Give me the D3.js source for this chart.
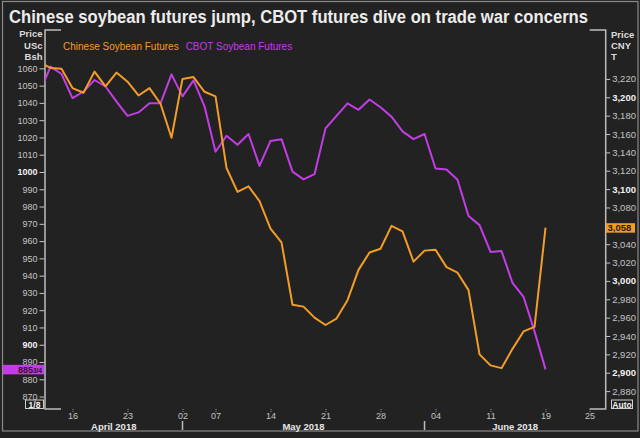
<!DOCTYPE html>
<html>
<head>
<meta charset="utf-8">
<script src="https://cdn.jsdelivr.net/npm/d3@7"></script>
<style>
  html, body { margin: 0; padding: 0; background: #222222; }
  svg { display: block; font-family: "Liberation Sans", Arial, sans-serif; }
</style>
</head>
<body>
<svg id="chart"></svg>
<script>
// trading days on the Dalian calendar (holidays skipped), incl. a few days after the last close
const tradingDays = [
  "2018-04-11", "2018-04-12", "2018-04-13",
  "2018-04-16", "2018-04-17", "2018-04-18", "2018-04-19", "2018-04-20",
  "2018-04-23", "2018-04-24", "2018-04-25", "2018-04-26", "2018-04-27",
  "2018-05-02", "2018-05-03", "2018-05-04",
  "2018-05-07", "2018-05-08", "2018-05-09", "2018-05-10", "2018-05-11",
  "2018-05-14", "2018-05-15", "2018-05-16", "2018-05-17", "2018-05-18",
  "2018-05-21", "2018-05-22", "2018-05-23", "2018-05-24", "2018-05-25",
  "2018-05-28", "2018-05-29", "2018-05-30", "2018-05-31", "2018-06-01",
  "2018-06-04", "2018-06-05", "2018-06-06", "2018-06-07", "2018-06-08",
  "2018-06-11", "2018-06-12", "2018-06-13", "2018-06-14", "2018-06-15",
  "2018-06-19", "2018-06-20", "2018-06-21", "2018-06-22",
  "2018-06-25", "2018-06-26", "2018-06-27"
];

// CBOT soybean futures, US cents / bushel (left axis)
const cbotPrices = [
  1045.75, 1061, 1056.75, 1042.75, 1046.5, 1053.25, 1049.5, 1040.75, 1032.5, 1034.5,
  1039.75, 1039.75, 1056.5, 1043.75, 1053, 1038, 1011.75, 1021, 1015.75, 1022,
  1003.5, 1018, 1019, 1000.25, 995.75, 998.75, 1025.25, 1032.5, 1039.75, 1036,
  1042, 1037.5, 1032, 1023.5, 1019, 1022, 1002, 1001.5, 995.5, 974.5,
  969.25, 953.75, 954.25, 935.75, 927.75, 907.75, 885.75
];

// Chinese (Dalian) soybean futures, CNY / tonne (right axis)
const chinaPrices = [
  3238, 3232, 3231, 3210, 3205, 3228, 3212, 3227, 3217, 3202,
  3210, 3193, 3156, 3220, 3222, 3206, 3201, 3123, 3097, 3103,
  3087, 3057, 3042, 2974, 2972, 2960, 2952, 2959, 2979, 3012,
  3031, 3035, 3060, 3054, 3021, 3033, 3034, 3015, 3009, 2990,
  2920, 2908, 2905, 2926, 2945, 2950, 3058
];

const xTickDays = ["2018-04-16", "2018-04-23", "2018-05-02", "2018-05-07", "2018-05-14", "2018-05-21",
  "2018-05-28", "2018-06-04", "2018-06-11", "2018-06-19", "2018-06-25"];
const leftTicks = [870, 880, 890, 900, 910, 920, 930, 940, 950, 960, 970, 980, 990,
  1000, 1010, 1020, 1030, 1040, 1050, 1060];
// 3,060 sits under the last-price flag, so it is not listed
const rightTicks = [2880, 2900, 2920, 2940, 2960, 2980, 3000, 3020, 3040,
  3080, 3100, 3120, 3140, 3160, 3180, 3200, 3220];
const months = ["April 2018", "May 2018", "June 2018"];

const title = "Chinese soybean futures jump, CBOT futures dive on trade war concerns";
const seriesNames = ["Chinese Soybean Futures", "CBOT Soybean Futures"];

const W = 640, H = 438;
const plot = { left: 45, right: 605.7, top: 30, bottom: 409 };
const orange = "#f39c26", purple = "#c33de6";
const grey = "#c4c4c4";
const font = "Liberation Sans, Arial, sans-serif";

const svg = d3.select("#chart").attr("width", W).attr("height", H);

svg.append("rect").attr("width", W).attr("height", H).attr("fill", "#222222");
// outer panel border
svg.append("rect")
  .attr("x", 2.5).attr("y", 1.5).attr("width", W - 4.5).attr("height", 429.5)
  .attr("fill", "none").attr("stroke", "#8a8a8a").attr("stroke-width", 1.2);

svg.append("text")
  .attr("x", 9).attr("y", 23)
  .attr("fill", "#ececec")
  .attr("font-size", 17.5).attr("font-weight", "bold")
  .attr("textLength", 579).attr("lengthAdjust", "spacingAndGlyphs")
  .text(title);

// scales
const x = d3.scaleLinear()
  .domain([0.5, 51.47])
  .range([plot.left, plot.right]);

const yLeft = d3.scaleLinear()
  .domain([862.8, 1082.2])
  .range([plot.bottom, plot.top]);

const yRight = d3.scaleLinear()
  .domain([2860.5, 3273.3])
  .range([plot.bottom, plot.top]);

// frame: full side lines, short corner pieces top and bottom
const frame = svg.append("g").attr("stroke", "#bdbdbd").attr("stroke-width", 1.5).attr("fill", "none");
frame.append("path").attr("d",
  `M${plot.left + 16},${plot.top}H${plot.left}V${plot.bottom}H${plot.left + 16}` +
  `M${plot.right - 16},${plot.top}H${plot.right}V${plot.bottom}H${plot.right - 16}`);

// left axis
const leftAxis = svg.append("g")
  .attr("transform", `translate(${plot.left - 0.5},0)`)
  .call(d3.axisLeft(yLeft).tickValues(leftTicks).tickFormat(d3.format("d")).tickSize(5).tickPadding(2));
leftAxis.select(".domain").remove();
leftAxis.selectAll("line").attr("stroke", grey);
leftAxis.selectAll("text")
  .attr("fill", d => d % 100 === 0 ? "#f0f0f0" : grey)
  .attr("font-weight", d => d % 100 === 0 ? "bold" : null)
  .attr("font-size", 9)
  .attr("font-family", font);

// right axis
const rightAxis = svg.append("g")
  .attr("transform", `translate(${plot.right + 0.5},0)`)
  .call(d3.axisRight(yRight).tickValues(rightTicks).tickFormat(d3.format(",")).tickSize(4).tickPadding(2));
rightAxis.select(".domain").remove();
rightAxis.selectAll("line").attr("stroke", grey);
rightAxis.selectAll("text")
  .attr("fill", d => d % 100 === 0 ? "#f0f0f0" : grey)
  .attr("font-weight", d => d % 100 === 0 ? "bold" : null)
  .attr("font-size", 9.5)
  .attr("font-family", font);

// unit labels
const unitL = ["Price", "USc", "Bsh"], unitR = ["Price", "CNY", "T"];
unitL.forEach((t, i) => svg.append("text")
  .attr("x", 42.5).attr("y", 37 + i * 11.7).attr("text-anchor", "end")
  .attr("fill", "#dcdcdc").attr("font-size", 9.5).attr("font-weight", "bold").text(t));
unitR.forEach((t, i) => svg.append("text")
  .attr("x", 611).attr("y", 37.5 + i * 11).attr("fill", "#dcdcdc")
  .attr("font-size", 9.5).attr("font-weight", "bold").text(t));

// x axis
const dayIndex = d => tradingDays.indexOf(d);
const xAxis = svg.append("g")
  .attr("transform", `translate(0,${plot.bottom})`)
  .call(d3.axisBottom(x)
    .tickValues(xTickDays.map(dayIndex))
    .tickFormat(i => tradingDays[i].slice(8))
    .tickSize(3).tickPadding(1));
xAxis.select(".domain").remove();
xAxis.selectAll("line").attr("stroke", "#9a9a9a").attr("stroke-dasharray", "1,1");
xAxis.selectAll("text").attr("fill", grey).attr("font-size", 9)
  .attr("font-family", font);

// month bands: separators at the first trading day of each month
const monthStarts = [dayIndex("2018-05-02"), dayIndex("2018-06-01")];
const bounds = [x.invert(plot.left), ...monthStarts, x.invert(plot.right)];
monthStarts.forEach(i => svg.append("line")
  .attr("x1", x(i)).attr("x2", x(i)).attr("y1", 421).attr("y2", 430)
  .attr("stroke", "#bdbdbd").attr("stroke-width", 1.5));
months.forEach((m, k) => svg.append("text")
  .attr("x", (x(bounds[k]) + x(bounds[k + 1])) / 2).attr("y", 430)
  .attr("text-anchor", "middle").attr("fill", "#e6e6e6")
  .attr("font-size", 9.5).attr("font-weight", "bold").text(m));

// lines, clipped to the plot frame
svg.append("clipPath").attr("id", "clip")
  .append("rect").attr("x", plot.left).attr("y", plot.top)
  .attr("width", plot.right - plot.left).attr("height", plot.bottom - plot.top);

const lineL = d3.line().x((d, i) => x(i)).y(d => yLeft(d));
const lineR = d3.line().x((d, i) => x(i)).y(d => yRight(d));

const lines = svg.append("g").attr("clip-path", "url(#clip)");
lines.append("path").datum(cbotPrices)
  .attr("d", lineL).attr("fill", "none").attr("stroke", purple)
  .attr("stroke-width", 2).attr("stroke-linejoin", "round");
lines.append("path").datum(chinaPrices)
  .attr("d", lineR).attr("fill", "none").attr("stroke", orange)
  .attr("stroke-width", 2).attr("stroke-linejoin", "round");

// legend
const legend = svg.append("text").attr("x", 63).attr("y", 50).attr("font-size", 10);
legend.append("tspan").attr("fill", orange).text(seriesNames[0]);
legend.append("tspan").attr("fill", purple).attr("dx", 7).text(seriesNames[1]);

// last value flags
const lastL = cbotPrices[cbotPrices.length - 1];
const lastR = chinaPrices[chinaPrices.length - 1];
svg.append("rect").attr("x", 3).attr("y", yLeft(lastL) - 4.5).attr("width", 41).attr("height", 9.5)
  .attr("fill", purple);
const flagL = svg.append("text").attr("x", 42).attr("y", yLeft(lastL) + 3.8)
  .attr("text-anchor", "end").attr("fill", "#2a1030").attr("font-size", 9).attr("font-weight", "bold");
flagL.append("tspan").text(Math.floor(lastL));
flagL.append("tspan").attr("font-size", 6.5).text("3/4");

svg.append("rect").attr("x", 606).attr("y", yRight(lastR) - 4.5).attr("width", 29).attr("height", 9.5)
  .attr("fill", orange);
svg.append("text").attr("x", 607.5).attr("y", yRight(lastR) + 3.5)
  .attr("fill", "#2a1a00").attr("font-size", 9.5).attr("font-weight", "bold")
  .text(d3.format(",")(lastR));

// small boxed buttons
[["1/8", 25, 18], ["Auto", 611, 21]].forEach(([t, bx, bw]) => {
  svg.append("rect").attr("x", bx + 0.5).attr("y", 400).attr("width", bw).attr("height", 8.5)
    .attr("fill", "none").attr("stroke", "#cfcfcf");
  svg.append("text").attr("x", bx + 0.5 + bw / 2).attr("y", 407.8).attr("text-anchor", "middle")
    .attr("fill", "#f0f0f0").attr("font-size", 8.5).attr("font-weight", "bold").text(t);
});
</script>
</body>
</html>
